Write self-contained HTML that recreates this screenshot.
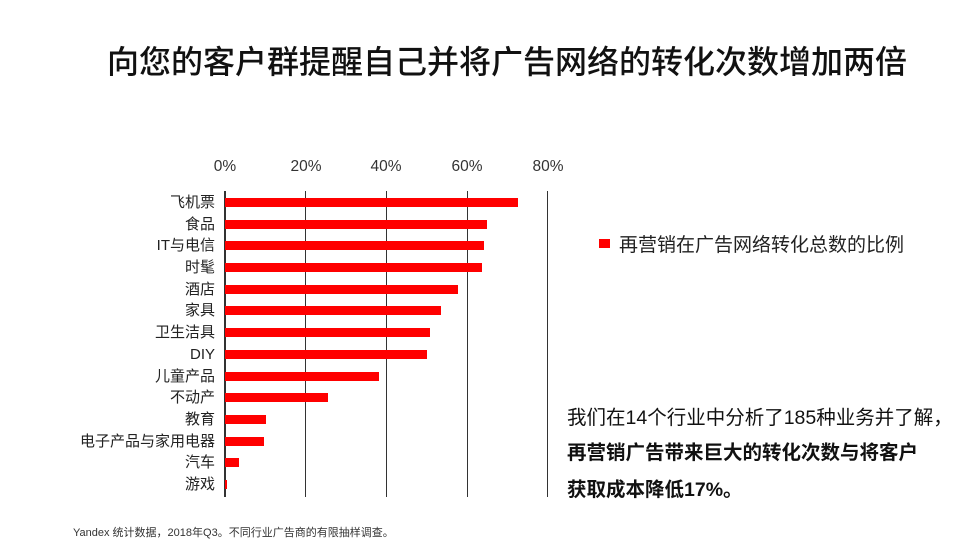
<!DOCTYPE html>
<html><head><meta charset="utf-8"><style>
body{margin:0;width:972px;height:547px;background:#fff;position:relative;overflow:hidden;font-family:"Liberation Sans","Noto Sans CJK SC",sans-serif;}
.a{position:absolute;white-space:nowrap}
.lbl{position:absolute;right:757px;font-size:15px;color:#222;line-height:16px;margin-top:1px}
.bar{position:absolute;left:225px;height:9px;background:#ff0000}
.g{position:absolute;top:191px;width:1px;height:306px;background:#333}
.t{position:absolute;top:158px;font-size:15.5px;color:#333;width:60px;text-align:center}
</style></head><body>
<div class="a" style="left:107px;top:37px;font-size:32px;color:#111;font-weight:500">向您的客户群提醒自己并将广告网络的转化次数增加两倍</div>
<div class="t" style="left:195px">0%</div>
<div class="t" style="left:276px">20%</div>
<div class="t" style="left:356px">40%</div>
<div class="t" style="left:437px">60%</div>
<div class="t" style="left:518px">80%</div>
<div class="g" style="left:305px"></div>
<div class="g" style="left:386px"></div>
<div class="g" style="left:467px"></div>
<div class="g" style="left:547px"></div>
<div class="g" style="left:224px;width:2px"></div>
<div class="bar" style="top:198px;width:293px"></div>
<div class="bar" style="top:220px;width:262px"></div>
<div class="bar" style="top:241px;width:259px"></div>
<div class="bar" style="top:263px;width:257px"></div>
<div class="bar" style="top:285px;width:233px"></div>
<div class="bar" style="top:306px;width:216px"></div>
<div class="bar" style="top:328px;width:205px"></div>
<div class="bar" style="top:350px;width:202px"></div>
<div class="bar" style="top:372px;width:154px"></div>
<div class="bar" style="top:393px;width:103px"></div>
<div class="bar" style="top:415px;width:41px"></div>
<div class="bar" style="top:437px;width:39px"></div>
<div class="bar" style="top:458px;width:14px"></div>
<div class="bar" style="top:480px;width:2px"></div>
<div class="lbl" style="top:194px">飞机票</div>
<div class="lbl" style="top:216px">食品</div>
<div class="lbl" style="top:237px">IT与电信</div>
<div class="lbl" style="top:259px">时髦</div>
<div class="lbl" style="top:281px">酒店</div>
<div class="lbl" style="top:302px">家具</div>
<div class="lbl" style="top:324px">卫生洁具</div>
<div class="lbl" style="top:346px">DIY</div>
<div class="lbl" style="top:368px">儿童产品</div>
<div class="lbl" style="top:389px">不动产</div>
<div class="lbl" style="top:411px">教育</div>
<div class="lbl" style="top:433px">电子产品与家用电器</div>
<div class="lbl" style="top:454px">汽车</div>
<div class="lbl" style="top:476px">游戏</div>
<div class="a" style="left:599px;top:239px;width:11px;height:9px;background:#ff0000"></div>
<div class="a" style="left:619px;top:230px;font-size:19px;color:#222">再营销在广告网络转化总数的比例</div>
<div class="a" style="left:567px;top:401px;font-size:19.5px;color:#111">我们在14个行业中分析了185种业务并了解，</div>
<div class="a" style="left:567px;top:436px;font-size:19.5px;color:#111;font-weight:bold">再营销广告带来巨大的转化次数与将客户</div>
<div class="a" style="left:567px;top:473px;font-size:19.5px;color:#111;font-weight:bold">获取成本降低17%。</div>
<div class="a" style="left:73px;top:524px;font-size:11px;color:#333">Yandex 统计数据，2018年Q3。不同行业广告商的有限抽样调查。</div>
</body></html>
